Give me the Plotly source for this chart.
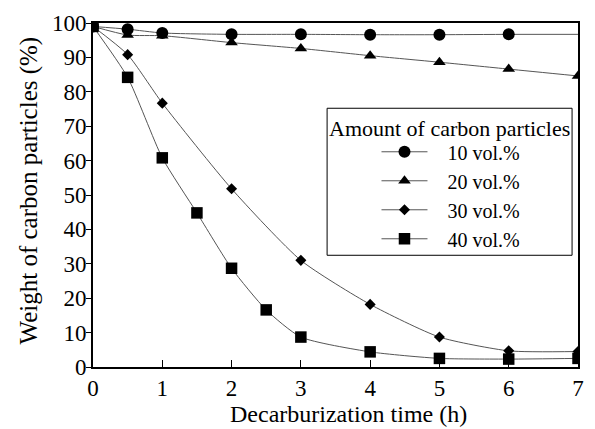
import plotly.graph_objects as go

# ---- data ----
time_10 = [0, 0.5, 1, 2, 3, 4, 5, 6]
weight_10 = [99, 98.2, 97.1, 96.7, 96.7, 96.6, 96.6, 96.7]
time_10_tail = [6, 7]
weight_10_tail = [96.7, 96.7]

time_20 = [0, 0.5, 1, 2, 3, 4, 5, 6, 7]
weight_20 = [99, 96.5, 96.3, 94.3, 92.6, 90.5, 88.6, 86.6, 84.6]

time_30 = [0, 0.5, 1, 2, 3, 4, 5, 6, 7]
weight_30 = [99, 90.8, 76.7, 51.8, 31.0, 18.2, 8.7, 4.7, 4.5]

time_40 = [0, 0.5, 1, 1.5, 2, 2.5, 3, 4, 5, 6, 7]
weight_40 = [99, 84.2, 60.8, 44.8, 28.7, 16.6, 8.7, 4.4, 2.5, 2.3, 2.5]

series_names = ["10 vol.%", "20 vol.%", "30 vol.%", "40 vol.%"]
x_ticks = [0, 1, 2, 3, 4, 5, 6, 7]
y_ticks = [0, 10, 20, 30, 40, 50, 60, 70, 80, 90, 100]

x_title = "Decarburization time (h)"
y_title = "Weight of carbon particles (%)"
legend_title = "Amount of carbon particles"

FONT = "Liberation Serif"
LINE_COLOR = "#555555"
PAD = "\u00a0\u00a0\u00a0"  # indent of legend labels

fig = go.Figure()


def add_series(x, y, name, symbol, size, rank):
    fig.add_trace(go.Scatter(
        x=x, y=y, name=PAD + name, mode="lines+markers",
        line=dict(color=LINE_COLOR, width=1, shape="spline", smoothing=0.6),
        marker=dict(symbol=symbol, size=size, color="black",
                    line=dict(width=0)),
        legendrank=rank,
    ))


# drawing order (later on top)
add_series(time_20, weight_20, series_names[1], "triangle-up", 11, 2)
fig.add_trace(go.Scatter(
    x=time_10_tail, y=weight_10_tail, mode="lines", showlegend=False,
    line=dict(color=LINE_COLOR, width=1), hoverinfo="skip"))
add_series(time_10, weight_10, series_names[0], "circle", 12, 1)
add_series(time_30, weight_30, series_names[2], "diamond", 8.5, 3)
add_series(time_40, weight_40, series_names[3], "square", 11.5, 4)

# plot area in px: left 93, right 584, top 16, bottom 367
L, R, T, B = 93, 11, 16, 62
PW, PH = 595 - L - R, 429 - T - B


def px_x(px):
    return (px - L) / PW


def px_y(py):
    return (T + PH - py) / PH


fig.update_layout(
    width=595, height=429,
    margin=dict(l=L, r=R, t=T, b=B, pad=0),
    paper_bgcolor="white", plot_bgcolor="white",
    font=dict(family=FONT, size=22, color="black"),
    showlegend=True,
    legend=dict(
        x=px_x(380), y=px_y(127.5), xanchor="left", yanchor="top",
        bgcolor="rgba(0,0,0,0)", borderwidth=0,
        font=dict(family=FONT, size=20, color="black"),
        itemwidth=46, tracegroupgap=0,
    ),
    xaxis=dict(
        range=[0, 7], tickvals=x_ticks, ticktext=[str(v) for v in x_ticks],
        showline=True, linecolor="black", linewidth=2, mirror=True,
        ticks="inside", ticklen=7, tickwidth=1.2, tickcolor="black",
        showgrid=False, zeroline=False,
        tickfont=dict(family=FONT, size=23),
        ticklabelstandoff=-1,
    ),
    yaxis=dict(
        range=[0, 100], tickvals=y_ticks, ticktext=[str(v) for v in y_ticks],
        showline=True, linecolor="black", linewidth=2, mirror=True,
        ticks="outside", ticklen=5, tickwidth=1.2, tickcolor="black",
        showgrid=False, zeroline=False,
        tickfont=dict(family=FONT, size=23),
        ticklabelstandoff=-5,
    ),
    shapes=[dict(
        type="rect", xref="paper", yref="paper",
        x0=px_x(330), x1=px_x(578), y0=px_y(253), y1=px_y(103),
        line=dict(color="black", width=1), fillcolor="white", layer="above",
    )],
    annotations=[
        dict(text=legend_title, xref="paper", yref="paper",
             x=px_x(453.5), y=px_y(124), xanchor="center", yanchor="middle",
             showarrow=False, font=dict(family=FONT, size=22)),
        dict(text=x_title, xref="paper", yref="paper",
             x=px_x(351.5), y=px_y(415), xanchor="center", yanchor="middle",
             showarrow=False, font=dict(family=FONT, size=24)),
        dict(text=y_title, xref="paper", yref="paper",
             x=px_x(28), y=px_y(187), xanchor="center", yanchor="middle",
             textangle=-90, showarrow=False, font=dict(family=FONT, size=25)),
    ],
)

fig.write_html("out.html")
